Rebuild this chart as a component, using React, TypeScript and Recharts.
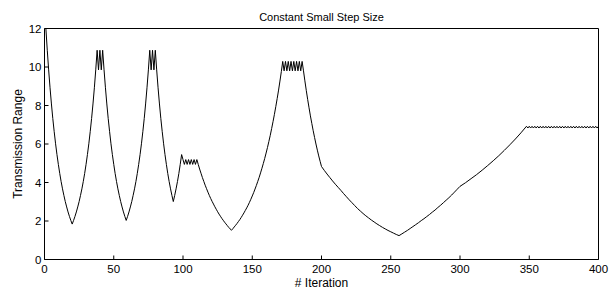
import { Line, LineChart, XAxis, YAxis } from "recharts";

// [iteration, transmission range]
const firstDip: [number, number][] = [
  [1, 12], [2, 10.87], [3, 9.85], [4, 8.92], [5, 8.08], [6, 7.32], [7, 6.64], [8, 6.01], [9, 5.45], [10, 4.94],
  [11, 4.47], [12, 4.05], [13, 3.67], [14, 3.33], [15, 3.01], [16, 2.73], [17, 2.47], [18, 2.24], [19, 2.03], [20, 1.84],
  [21, 2.03], [22, 2.24], [23, 2.47], [24, 2.73], [25, 3.01], [26, 3.33], [27, 3.67], [28, 4.05], [29, 4.47], [30, 4.94],
  [31, 5.45], [32, 6.01], [33, 6.64], [34, 7.32], [35, 8.08], [36, 8.92], [37, 9.85], [38, 10.87],
  [39, 9.85], [40, 10.87], [41, 9.85], [42, 10.87],
];

const secondDip: [number, number][] = [
  [43, 9.85], [44, 8.92], [45, 8.08], [46, 7.32], [47, 6.64], [48, 6.01], [49, 5.45], [50, 4.94], [51, 4.47], [52, 4.05],
  [53, 3.67], [54, 3.33], [55, 3.01], [56, 2.73], [57, 2.47], [58, 2.24], [59, 2.03],
  [60, 2.24], [61, 2.47], [62, 2.73], [63, 3.01], [64, 3.33], [65, 3.67], [66, 4.05], [67, 4.47], [68, 4.94], [69, 5.45],
  [70, 6.01], [71, 6.64], [72, 7.32], [73, 8.08], [74, 8.92], [75, 9.85], [76, 10.87],
  [77, 9.85], [78, 10.87], [79, 9.85], [80, 10.87],
];

const thirdDip: [number, number][] = [
  [81, 9.85], [82, 8.92], [83, 8.08], [84, 7.32], [85, 6.64], [86, 6.01], [87, 5.45], [88, 4.94], [89, 4.47], [90, 4.05],
  [91, 3.67], [92, 3.33], [93, 3.01], [94, 3.33], [95, 3.67], [96, 4.05], [97, 4.47], [98, 4.94], [99, 5.45],
  [100, 5.19], [101, 4.94], [102, 5.19], [103, 4.94], [104, 5.19], [105, 4.94], [106, 5.19], [107, 4.94], [108, 5.19],
  [109, 4.94], [110, 5.19], [111, 4.94],
];

const fourthDip: [number, number][] = [
  [112, 4.7], [113, 4.48], [114, 4.26], [115, 4.06], [116, 3.86], [117, 3.68], [118, 3.5], [119, 3.33], [120, 3.17],
  [121, 3.02], [122, 2.88], [123, 2.74], [124, 2.61], [125, 2.48], [126, 2.36], [127, 2.25], [128, 2.14], [129, 2.04],
  [130, 1.94], [131, 1.85], [132, 1.76], [133, 1.67], [134, 1.59], [135, 1.52],
  [136, 1.6], [137, 1.69], [138, 1.78], [139, 1.87], [140, 1.97], [141, 2.07], [142, 2.18], [143, 2.3], [144, 2.42],
  [145, 2.55], [146, 2.68], [147, 2.82], [148, 2.97], [149, 3.13], [150, 3.3], [151, 3.47], [152, 3.66], [153, 3.85],
  [154, 4.06], [155, 4.27], [156, 4.5], [157, 4.74], [158, 4.99], [159, 5.25], [160, 5.53], [161, 5.82], [162, 6.13],
  [163, 6.45], [164, 6.8], [165, 7.16], [166, 7.54], [167, 7.94], [168, 8.36], [169, 8.8], [170, 9.27], [171, 9.76],
  [172, 10.29], [173, 9.8], [174, 10.29], [175, 9.8], [176, 10.29], [177, 9.8], [178, 10.29], [179, 9.8], [180, 10.29],
  [181, 9.8], [182, 10.29], [183, 9.8], [184, 10.29], [185, 9.8], [186, 10.29],
];

const longValley: [number, number][] = [
  [187, 9.8], [188, 9.28], [189, 8.79], [190, 8.32], [191, 7.88], [192, 7.46], [193, 7.07], [194, 6.69], [195, 6.34],
  [196, 6.0], [197, 5.68], [198, 5.38], [199, 5.1], [200, 4.83],
  [202, 4.63], [204, 4.44], [206, 4.26], [208, 4.08], [210, 3.91], [212, 3.75], [214, 3.59], [216, 3.42], [218, 3.26],
  [220, 3.1], [222, 2.95], [224, 2.8], [226, 2.65], [228, 2.52], [230, 2.39], [232, 2.27], [234, 2.16], [236, 2.05],
  [238, 1.95], [240, 1.85], [242, 1.76], [244, 1.67], [246, 1.59], [248, 1.51], [250, 1.44], [252, 1.37], [254, 1.3],
  [256, 1.24],
  [258, 1.33], [260, 1.42], [262, 1.51], [264, 1.61], [266, 1.71], [268, 1.81], [270, 1.91], [272, 2.02], [274, 2.12],
  [276, 2.23], [278, 2.34], [280, 2.46], [282, 2.57], [284, 2.7], [286, 2.82], [288, 2.95], [290, 3.08], [292, 3.21],
  [294, 3.35], [296, 3.5], [298, 3.65], [300, 3.8],
  [304, 3.99], [308, 4.2], [312, 4.41], [316, 4.64], [320, 4.88], [324, 5.13], [328, 5.39], [332, 5.67], [336, 5.96],
  [340, 6.26], [344, 6.58], [348, 6.92],
];

const plateau: [number, number][] = [
  [349, 6.83], [350, 6.92], [351, 6.83], [352, 6.92], [353, 6.83], [354, 6.92], [355, 6.83], [356, 6.92], [357, 6.83],
  [358, 6.92], [359, 6.83], [360, 6.92], [361, 6.83], [362, 6.92], [363, 6.83], [364, 6.92], [365, 6.83], [366, 6.92],
  [367, 6.83], [368, 6.92], [369, 6.83], [370, 6.92], [371, 6.83], [372, 6.92], [373, 6.83], [374, 6.92], [375, 6.83],
  [376, 6.92], [377, 6.83], [378, 6.92], [379, 6.83], [380, 6.92], [381, 6.83], [382, 6.92], [383, 6.83], [384, 6.92],
  [385, 6.83], [386, 6.92], [387, 6.83], [388, 6.92], [389, 6.83], [390, 6.92], [391, 6.83], [392, 6.92], [393, 6.83],
  [394, 6.92], [395, 6.83], [396, 6.92], [397, 6.83], [398, 6.92], [399, 6.83], [400, 6.92],
];

const xTicks = [0, 50, 100, 150, 200, 250, 300, 350, 400];
const yTicks = [0, 2, 4, 6, 8, 10, 12];

const data = [...firstDip, ...secondDip, ...thirdDip, ...fourthDip, ...longValley, ...plateau].map(
  ([iteration, range]) => ({ iteration, range })
);

const font = "'Liberation Sans', Arial, sans-serif";
const tickStyle = { fill: "#000", fontSize: 11.5 };

export default function App() {
  return (
    <div style={{ position: "absolute", left: 0, top: 0, width: 611, height: 288, background: "#fff", fontFamily: font }}>
      <LineChart width={611} height={288} data={data} margin={{ top: 27.5, right: 11.5, bottom: 0, left: 0 }}>
        <XAxis
          dataKey="iteration"
          type="number"
          domain={[0, 400]}
          ticks={xTicks}
          interval={0}
          height={28.5}
          stroke="#000"
          tickSize={-4}
          tickMargin={9}
          tick={tickStyle}
          label={{ value: "# Iteration", position: "insideBottom", offset: 1.5, fill: "#000", fontSize: 12 }}
        />
        <XAxis
          xAxisId="top"
          orientation="top"
          dataKey="iteration"
          type="number"
          domain={[0, 400]}
          ticks={xTicks}
          interval={0}
          height={1}
          stroke="#000"
          tickSize={-4}
          tick={false}
          label={{ value: "Constant Small Step Size", position: "top", offset: 7, fill: "#000", fontSize: 11 }}
        />
        <YAxis
          type="number"
          domain={[0, 12]}
          ticks={yTicks}
          interval={0}
          width={44.5}
          stroke="#000"
          tickSize={-4}
          tickMargin={7}
          tick={tickStyle}
          label={{ value: "Transmission Range", angle: -90, position: "center", dx: -5, fill: "#000", fontSize: 12 }}
        />
        <YAxis
          yAxisId="right"
          orientation="right"
          type="number"
          domain={[0, 12]}
          ticks={yTicks}
          interval={0}
          width={1}
          stroke="#000"
          tickSize={-4}
          tick={false}
        />
        <Line dataKey="range" stroke="#000" strokeWidth={1} dot={false} isAnimationActive={false} />
      </LineChart>
    </div>
  );
}
